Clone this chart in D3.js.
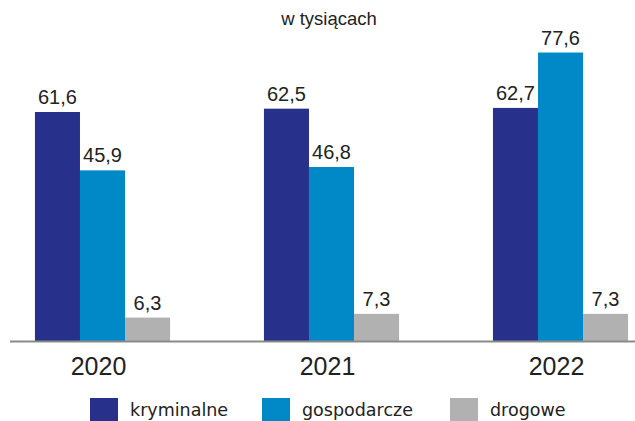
<!DOCTYPE html>
<html><head><meta charset="utf-8">
<script src="https://cdn.jsdelivr.net/npm/d3@7"></script>
<style>body{margin:0;background:#fff}svg{display:block}</style>
</head><body><div id="c"></div>
<script>
const years = ["2020","2021","2022"];
const seriesNames = ["kryminalne","gospodarcze","drogowe"];
const kryminalne = [61.6,62.5,62.7];
const gospodarcze = [45.9,46.8,77.6];
const drogowe = [6.3,7.3,7.3];
const colors = ["#27308a","#0088c7","#b1b1b1"];
const title = "w tysiącach";

const W=635,H=421;
const svg=d3.select("#c").append("svg").attr("width",W).attr("height",H)
  .attr("font-family","Liberation Sans, Arial, sans-serif");
const values=[kryminalne,gospodarcze,drogowe];
const x0=d3.scaleBand().domain(years).range([-12,675]).paddingInner(0.41).paddingOuter(0.205);
const x1=d3.scaleBand().domain(seriesNames).range([0,x0.bandwidth()]);
const y=d3.scaleLinear().domain([0,80]).range([341,43.6]);
const fmt=v=>d3.format(".1f")(v).replace(".",",");

svg.append("text").attr("x",329).attr("y",25).attr("text-anchor","middle").attr("font-size",18.5).attr("fill","#222").text(title);

years.forEach((yr,i)=>{
  const g=svg.append("g").attr("transform",`translate(${x0(yr)},0)`);
  seriesNames.forEach((s,j)=>{
    const v=values[j][i];
    g.append("rect").attr("x",x1(s)).attr("y",y(v)).attr("width",x1.bandwidth()).attr("height",y(0)-y(v)).attr("fill",colors[j]);
    g.append("text").attr("x",x1(s)+x1.bandwidth()/2).attr("y",y(v)-8).attr("text-anchor","middle").attr("font-size",20).attr("fill","#222").text(fmt(v));
  });
});

const axis=svg.append("g").attr("transform",`translate(0,${y(0)})`)
  .call(d3.axisBottom(x0).tickSize(0).tickPadding(0));
axis.select(".domain").attr("d","M10,0.5H635").attr("stroke","#8a8a8a").attr("stroke-width",2);
axis.selectAll(".tick text").attr("dy",null).attr("y",34).attr("dx",-4).attr("font-size",25).attr("fill","#222").attr("font-family","Liberation Sans, Arial, sans-serif");

const legX=[90,262,450];
seriesNames.forEach((s,j)=>{
  svg.append("rect").attr("x",legX[j]).attr("y",398).attr("width",28).attr("height",23).attr("fill",colors[j]);
  svg.append("text").attr("x",legX[j]+40).attr("y",416).attr("font-size",17.5).attr("fill","#222").attr("font-family","DejaVu Sans, sans-serif").text(s);
});
</script></body></html>
